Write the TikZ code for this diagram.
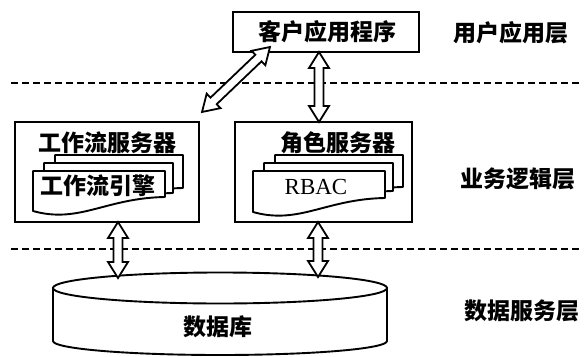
\documentclass[tikz,border=0pt]{standalone}
\usepackage{fontspec}
\setmainfont{Liberation Serif}
\newfontfamily\cjk{Noto Sans CJK SC}
\usetikzlibrary{calc}
\newcommand\hollowarrow[2]{%
  \filldraw[harrow] let \p1=(#1), \p2=(#2),
    \n1={atan2(\y2-\y1,\x2-\x1)}, \n2={veclen(\x2-\x1,\y2-\y1)} in
    [shift={(\p1)}, rotate=\n1]
    (0pt,0pt) -- (16pt,10pt) -- (16pt,4.5pt) -- (\n2-16pt,4.5pt) -- (\n2-16pt,10pt)
    -- (\n2,0pt) -- (\n2-16pt,-10pt) -- (\n2-16pt,-4.5pt) -- (16pt,-4.5pt)
    -- (16pt,-10pt) -- cycle;}
% document sheet: x0, ytop, x1, yright-bottom, yleft-bottom
\newcommand\sheet[5]{%
  \filldraw[sheetst] (#1,#2) -- (#3,#2) -- (#3,#4)
    .. controls ({#3-0.45*(#3-#1)},{#4+1}) and ({#1+0.35*(#3-#1)},{#5+13}) .. (#1,#5) -- cycle;}
\begin{document}
\begin{tikzpicture}[x=1pt,y=-1pt,
  box/.style={draw, line width=1.9pt, inner sep=0pt, fill=white},
  cjkt/.style={font=\cjk\bfseries\fontsize{23pt}{25pt}\selectfont, inner sep=0pt},
  sheetst/.style={draw, line width=1.9pt, fill=white, line join=round},
  harrow/.style={draw, line width=1.8pt, fill=white, line join=miter},
  layer/.style={line width=1.6pt, dash pattern=on 7pt off 4pt}]
\useasboundingbox (0,0) rectangle (586,356);
% layer separators
\coordinate (d1l) at (11,83);
\coordinate (d1r) at (580,83);
\coordinate (d2l) at (11,249);
\coordinate (d2r) at (580,249);
\draw[layer] (d1l) -- (d1r);
\draw[layer] (d2l) -- (d2r);
% top application box
\node[box, minimum width=186pt, minimum height=40pt] (app) at (326,32) {};
\node[cjkt] (appt) at (327,32) {客户应用程序};
% workflow server
\node[box, minimum width=184pt, minimum height=100pt] (ws) at (107,172) {};
\node[cjkt] (wst) at (107,143) {工作流服务器};
\sheet{55}{155}{183}{188}{200}
\sheet{44}{163}{173}{193}{205}
\sheet{33}{171}{165}{197}{211}
\node[cjkt] (wse) at (98,186) {工作流引擎};
% role server
\node[box, minimum width=177pt, minimum height=100pt] (rs) at (323.5,172) {};
\node[cjkt] (rst) at (338,143) {角色服务器};
\sheet{275}{155}{403}{187}{200}
\sheet{264}{163}{393}{191}{205}
\sheet{253}{171}{385}{198}{212}
\node[font=\fontsize{23pt}{25pt}\selectfont, inner sep=0pt] (rbac) at (316,187) {RBAC};
% database
\filldraw[line width=1.9pt, fill=white] (53,288) -- (53,341)
  arc[start angle=180, end angle=360, x radius=167pt, y radius=14pt] -- (387,288) -- cycle;
\filldraw[line width=1.9pt, fill=white] (220,288) ellipse [x radius=167pt, y radius=15.5pt];
\node[cjkt] (db) at (218,327) {数据库};
% layer labels
\node[cjkt] (lay1) at (511,33) {用户应用层};
\node[cjkt] (lay2) at (518,179) {业务逻辑层};
\node[cjkt] (lay3) at (522,311) {数据服务层};
% arrows
\coordinate (appd) at (270,47);
\coordinate (wsu) at (202,112);
\coordinate (appb) at (319,52);
\coordinate (rst1) at (319,122);
\coordinate (wsb) at (118,222);
\coordinate (dbl) at (118,278);
\coordinate (rsb) at (318,222);
\coordinate (dbr) at (318,277);
\hollowarrow{appd}{wsu}
\hollowarrow{appb}{rst1}
\hollowarrow{wsb}{dbl}
\hollowarrow{rsb}{dbr}
\end{tikzpicture}
\end{document}
